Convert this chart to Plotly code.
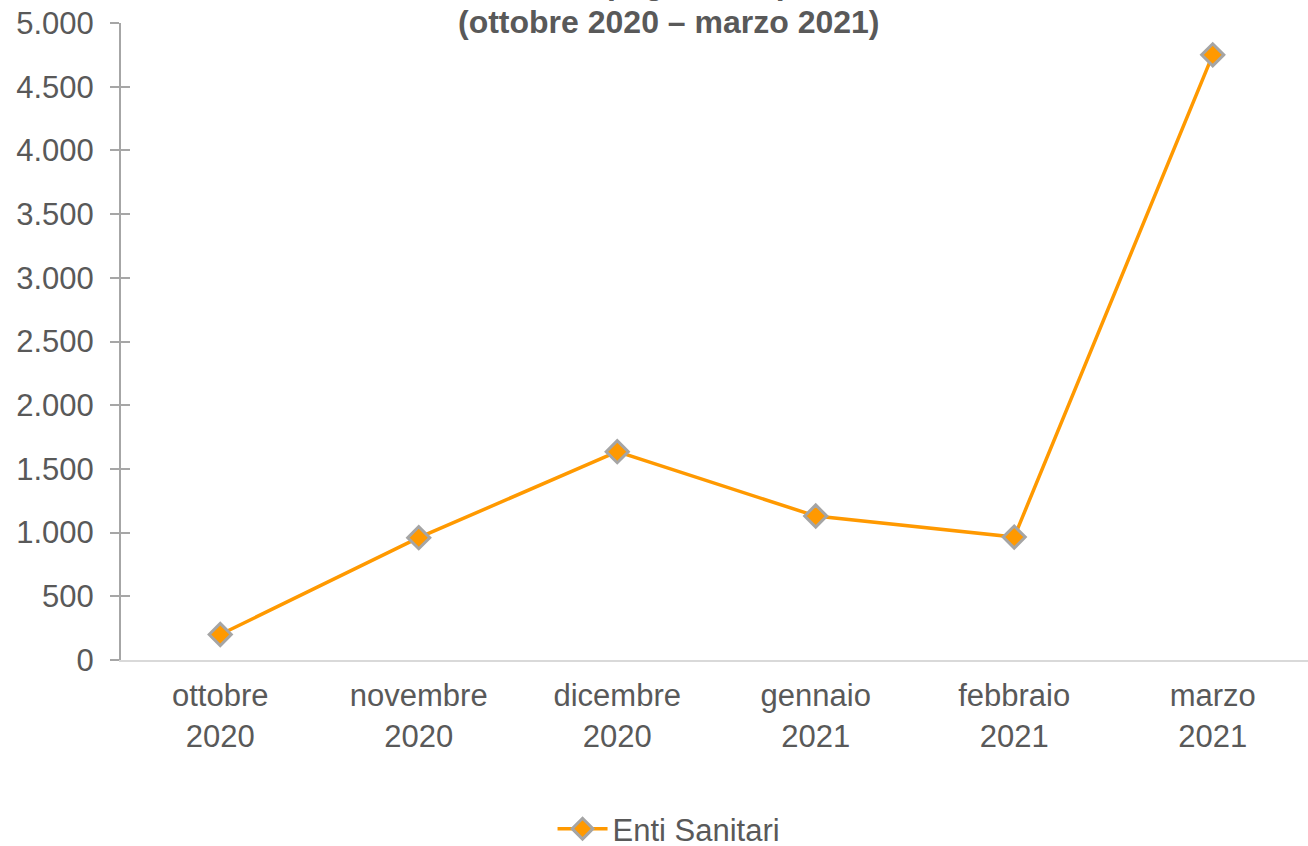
import plotly.graph_objects as go

categories = ["ottobre<br>2020", "novembre<br>2020", "dicembre<br>2020",
              "gennaio<br>2021", "febbraio<br>2021", "marzo<br>2021"]
values = [200, 960, 1635, 1130, 965, 4750]
series_name = "Enti Sanitari"
title_line1 = "Numero dei pagamenti per mese"
title_line2 = "(ottobre 2020 – marzo 2021)"
y_ticks = [0, 500, 1000, 1500, 2000, 2500, 3000, 3500, 4000, 4500, 5000]

W, H = 1308, 846
L, R, T, B = 121, 0, 23, 186
FONT = "Liberation Sans, Arial, sans-serif"
TXT = "#595959"
PLOT_H = H - T - B  # 637

def py(pix):
    """window pixel y -> paper y"""
    return (660 - pix) / PLOT_H

fig = go.Figure()
fig.add_trace(go.Scatter(
    x=list(range(len(categories))), y=values, name=series_name,
    mode="lines+markers",
    line=dict(color="#FF9900", width=3.5),
    marker=dict(symbol="diamond", size=17, color="#FF9900",
                line=dict(color="#A5A5A5", width=3)),
))
# invisible trace to carry the overlay axis (cross ticks)
fig.add_trace(go.Scatter(x=[0], y=[0], yaxis="y2", showlegend=False,
                         mode="markers", marker=dict(opacity=0),
                         hoverinfo="skip"))

fig.update_layout(
    width=W, height=H,
    margin=dict(l=L, r=R, t=T, b=B, autoexpand=False),
    paper_bgcolor="white", plot_bgcolor="white",
    separators=",.",
    font=dict(family=FONT, size=31, color=TXT),
    showlegend=True,
    legend=dict(orientation="h", x=0.4617, xref="paper", xanchor="center",
                y=py(829), yanchor="middle",
                font=dict(size=31, color=TXT), itemwidth=50),
    xaxis=dict(
        tickmode="array", tickvals=list(range(len(categories))),
        ticktext=categories, range=[-0.5, 5.48],
        showgrid=False, zeroline=False, automargin=False,
        showline=True, linecolor="#D9D9D9", linewidth=2,
        ticks="", tickfont=dict(size=31, color=TXT), ticklabelstandoff=7,
    ),
    yaxis=dict(
        range=[0, 5000], tickvals=y_ticks, tickformat=",d",
        showgrid=False, zeroline=False, automargin=False,
        showline=True, linecolor="#A6A6A6", linewidth=2,
        ticks="outside", ticklen=9, tickcolor="#A6A6A6", tickwidth=2,
        tickfont=dict(size=31, color=TXT), ticklabelstandoff=10,
        ticklabeloverflow="allow",
    ),
    yaxis2=dict(
        overlaying="y", side="left", range=[0, 5000], tickvals=y_ticks,
        showticklabels=False, showgrid=False, zeroline=False, automargin=False,
        showline=False, ticks="inside", ticklen=9, tickcolor="#A6A6A6",
        tickwidth=2,
    ),
    annotations=[
        dict(text="<b>" + title_line1 + "</b>",
             xref="paper", yref="paper", x=0.4617, y=py(-17),
             xanchor="center", yanchor="middle", showarrow=False,
             font=dict(family=FONT, size=32, color=TXT)),
        dict(text="<b>" + title_line2 + "</b>",
             xref="paper", yref="paper", x=0.4617, y=py(22),
             xanchor="center", yanchor="middle", showarrow=False,
             font=dict(family=FONT, size=32, color=TXT)),
    ],
)

fig.write_html(
    "out.html",
    config={"displayModeBar": False},
    post_script="document.body.style.margin='0';document.body.style.overflow='hidden';",
)
